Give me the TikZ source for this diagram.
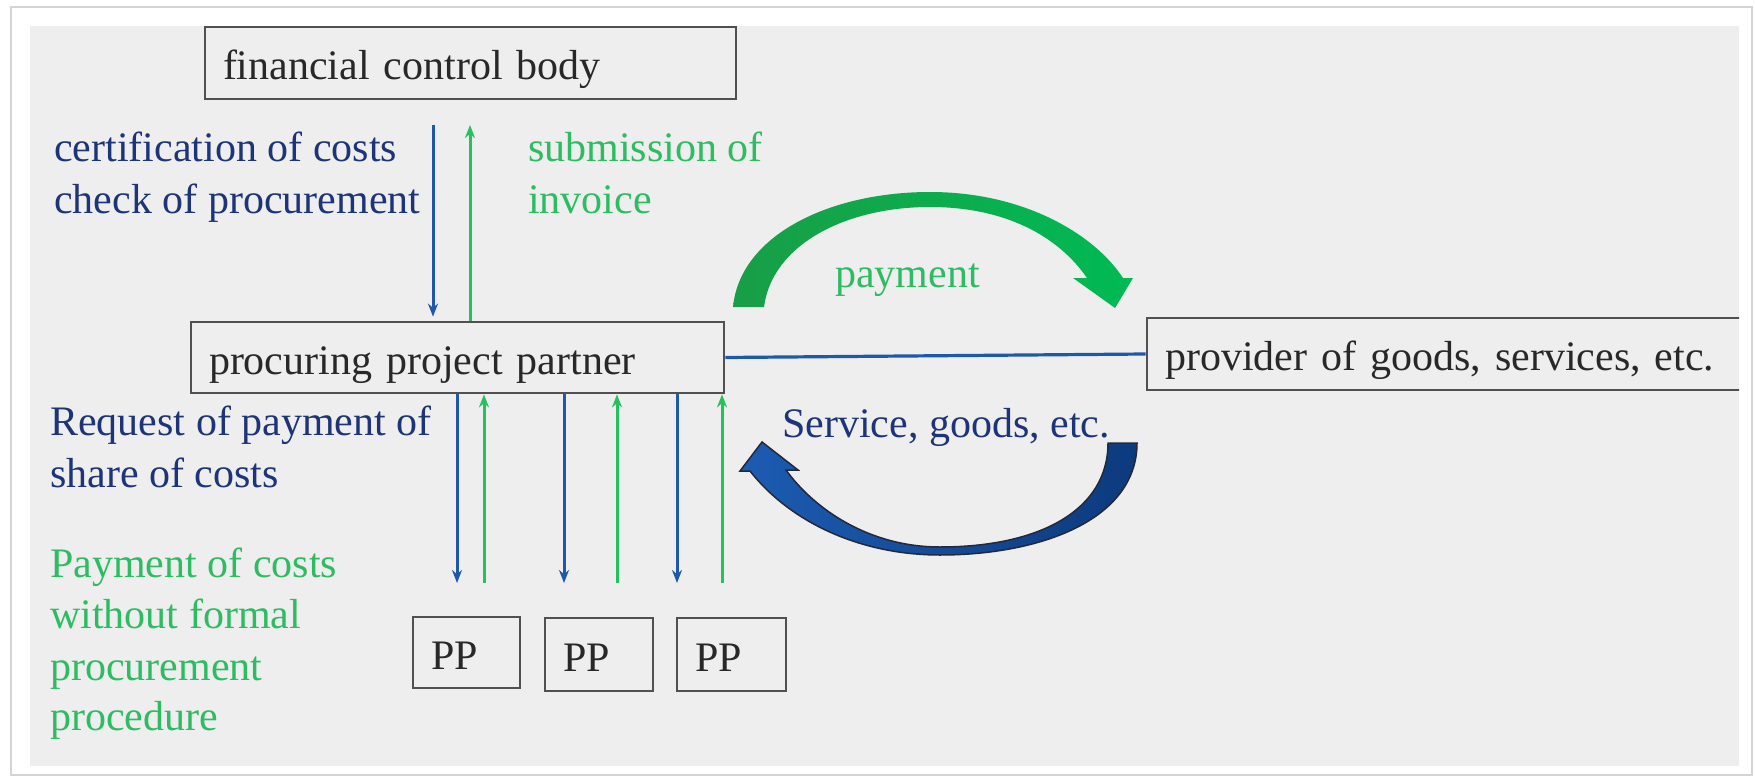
\documentclass[tikz,border=0pt]{standalone}
\usepackage{fontspec}
\setmainfont{Liberation Serif}
\usetikzlibrary{arrows.meta}
\definecolor{bggray}{RGB}{238,238,238}
\definecolor{framegray}{RGB}{212,212,212}
\definecolor{boxline}{RGB}{80,80,80}
\definecolor{boxtext}{RGB}{40,40,40}
\definecolor{navy}{RGB}{30,52,120}
\definecolor{arrblue}{RGB}{30,88,168}
\definecolor{lgreen}{RGB}{45,188,98}
\definecolor{arrgreen}{RGB}{38,192,94}
\definecolor{cgreenA}{RGB}{24,158,70}
\definecolor{cgreenB}{RGB}{0,186,84}
\definecolor{cblueA}{RGB}{28,92,178}
\definecolor{cblueB}{RGB}{12,58,125}
\definecolor{cblueEdge}{RGB}{35,40,58}
\begin{document}
\begin{tikzpicture}[x=1pt,y=-1pt,
  boxnode/.style={draw=boxline, line width=2.8pt, align=left, inner xsep=18pt, inner ysep=0pt,
    text height=37pt, text depth=4pt, text=boxtext, font=\fontsize{42}{51}\selectfont},
  lbl/.style={anchor=base west, inner sep=0pt, font=\fontsize{42}{51}\selectfont},
  bluelbl/.style={lbl, text=navy},
  greenlbl/.style={lbl, text=lgreen},
  bluearr/.style={draw=arrblue, line width=3pt, -{Stealth[length=13pt,width=10pt]}},
  greenarr/.style={draw=arrgreen, line width=3pt, -{Stealth[length=13pt,width=10pt]}},
  linkline/.style={draw=arrblue, line width=3.2pt},
]
\useasboundingbox (0,0) rectangle (1755,778);
\fill[white] (0,0) rectangle (1755,778);
\draw[framegray, line width=1.5pt] (11,7) rectangle (1752,775);
\fill[bggray] (30,26) rectangle (1739,766);

% boxes
\node[boxnode, text width=495pt, minimum height=72pt] (fcb) at (470.5,63) {financial control body};
\node[boxnode, text width=497pt, minimum height=71pt] (ppp) at (457.5,357.5) {procuring project partner};
\begin{scope}
  \clip (30,26) rectangle (1739,766);
  \node[boxnode, text width=592pt, minimum height=72pt] (prov) at (1461,354) {provider of goods, services, etc.};
\end{scope}
\node[boxnode, text width=71pt, minimum height=71pt] (pp1) at (466.5,652.5) {PP};
\node[boxnode, text width=72pt, minimum height=73pt] (pp2) at (599,654.5) {PP};
\node[boxnode, text width=73pt, minimum height=73pt] (pp3) at (731.5,654.5) {PP};

% labels
\node[bluelbl] (l1a) at (54,162) {certification of costs};
\node[bluelbl] (l1b) at (54,213) {check of procurement};
\node[greenlbl] (l2a) at (528,162) {submission of};
\node[greenlbl] (l2b) at (528,213) {invoice};
\node[bluelbl] (l3a) at (50,435) {Request of payment of};
\node[bluelbl] (l3b) at (50,487) {share of costs};
\node[greenlbl] (l4a) at (50,577) {Payment of costs};
\node[greenlbl] (l4b) at (50,628) {without formal};
\node[greenlbl] (l4c) at (50,680) {procurement};
\node[greenlbl] (l4d) at (50,730) {procedure};
\node[greenlbl] (lpay) at (835,287) {payment};
\node[bluelbl] (lserv) at (782,437) {Service, goods, etc.};

% vertical arrows between control body and procuring partner
\coordinate (c1) at (433,125);
\coordinate (c2) at (470,125);
\draw[bluearr, shorten >=4pt] (c1) -- (ppp.north -| c1);
\draw[greenarr] (ppp.north -| c2) -- (c2);

% arrows between procuring partner and PPs
\coordinate (b1) at (457,583);
\coordinate (g1) at (484,583);
\coordinate (b2) at (564,583);
\coordinate (g2) at (617,583);
\coordinate (b3) at (677,583);
\coordinate (g3) at (722,583);
\draw[bluearr] (ppp.south -| b1) -- (b1);
\draw[greenarr] (g1) -- (ppp.south -| g1);
\draw[bluearr] (ppp.south -| b2) -- (b2);
\draw[greenarr] (g2) -- (ppp.south -| g2);
\draw[bluearr] (ppp.south -| b3) -- (b3);
\draw[greenarr] (g3) -- (ppp.south -| g3);

% link line
\draw[linkline] (ppp.east) -- (prov.west);

% green curved arrow (payment)
\path[left color=cgreenA, right color=cgreenB]
  (733,307) .. controls (740,235) and (830,192) .. (930,192)
  .. controls (1025,192) and (1095,235) .. (1123,278)
  -- (1133,278) -- (1115,308) -- (1073,278) -- (1087,278)
  .. controls (1058,236) and (1005,207) .. (930,207)
  .. controls (845,207) and (772,245) .. (764,307) -- cycle;

% blue curved arrow (service)
\path[draw=cblueEdge, line width=1.5pt, left color=cblueA, right color=cblueB]
  (1137,443) .. controls (1137,520) and (1040,555) .. (940,555)
  .. controls (860,555) and (790,522) .. (750,471)
  -- (740,471) -- (762,442) -- (798,470) -- (786,470)
  .. controls (815,510) and (870,547) .. (940,547)
  .. controls (1040,547) and (1108,510) .. (1108,443) -- cycle;
\end{tikzpicture}
\end{document}
